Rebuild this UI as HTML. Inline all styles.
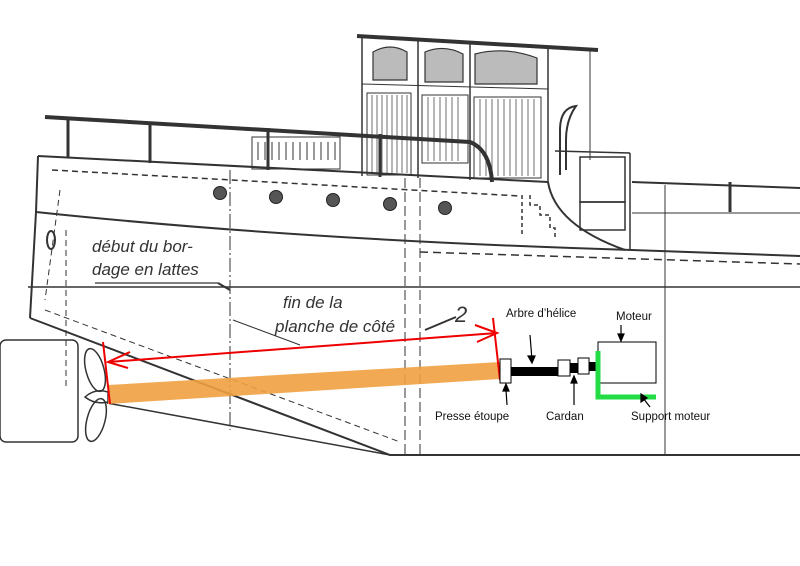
<!DOCTYPE html>
<html><head><meta charset="utf-8"><style>
html,body{margin:0;padding:0;background:#fff;}
svg{display:block}
.h{font-family:"Liberation Sans",sans-serif;font-style:italic;font-size:17px;fill:#333}
.l{font-family:"Liberation Sans",sans-serif;font-size:11.5px;fill:#111}
</style></head><body>
<svg width="800" height="566" viewBox="0 0 800 566" xmlns="http://www.w3.org/2000/svg">
<g stroke="#333" fill="none" stroke-width="1.5">
<!-- cabin -->
<line x1="357" y1="36" x2="598" y2="50" stroke-width="4"/>
<line x1="362" y1="38" x2="362" y2="176"/>
<line x1="418" y1="41" x2="418" y2="178"/>
<line x1="470" y1="44" x2="470" y2="180"/>
<line x1="548" y1="49" x2="548" y2="182"/>
<line x1="590" y1="51" x2="590" y2="160" stroke-width="1"/>
<path d="M373 52 Q390 42 407 52 V80 H373 Z" fill="#bbb" stroke-width="1.2"/>
<path d="M425 52 Q444 44 463 54 V82 H425 Z" fill="#bbb" stroke-width="1.2"/>
<path d="M475 54 Q505 46 537 58 V84 H475 Z" fill="#bbb" stroke-width="1.2"/>
<line x1="362" y1="84" x2="548" y2="89" stroke-width="1"/>
<rect x="367" y="93" width="44" height="82" stroke-width="1"/>
<rect x="422" y="95" width="46" height="68" stroke-width="1"/>
<rect x="474" y="97" width="67" height="81" stroke-width="1"/>
<g stroke-width="0.7">
<path d="M372 95V173M377 95V173M382 95V173M387 95V173M392 95V173M397 95V173M402 95V173M407 95V173"/>
<path d="M428 97V161M434 97V161M440 97V161M446 97V161M452 97V161M458 97V161"/>
<path d="M480 99V176M486 99V176M492 99V176M498 99V176M504 99V176M510 99V176M516 99V176M522 99V176M528 99V176M534 99V176"/>
</g>
<!-- exhaust + box -->
<path d="M560 175 V130 Q560 108 576 106 Q566 120 566 140 V170" stroke-width="2"/>
<rect x="580" y="157" width="45" height="45"/>
<rect x="580" y="202" width="45" height="28"/>
<line x1="555" y1="151" x2="630" y2="153"/>
<line x1="630" y1="153" x2="630" y2="250"/>
<path d="M522 195 V235 M530 195 V205 H540 V215 H550 V228 H555 V240" stroke-dasharray="4 3"/>
<path d="M548 182 Q555 225 625 250" stroke-width="2"/>
<!-- rail -->
<path d="M45 117 L470 142 Q490 150 492 182" stroke-width="4"/>
<path d="M68 117V157M150 122V163M268 128V170M380 134V177" stroke-width="3"/>
<rect x="252" y="137" width="88" height="32" stroke-width="1"/>
<path d="M258 142V160M265 142V160M272 142V160M279 142V160M286 142V160M293 142V160M300 142V160M307 142V160M314 142V160M321 142V160M328 142V160M335 142V160" stroke-width="1"/>
<!-- hull lines -->
<line x1="38" y1="156" x2="548" y2="182" stroke-width="2"/>
<line x1="632" y1="182" x2="800" y2="188" stroke-width="2"/>
<line x1="632" y1="213" x2="800" y2="213" stroke-width="1"/>
<line x1="730" y1="182" x2="730" y2="212" stroke-width="3"/>
<line x1="52" y1="170" x2="520" y2="196" stroke-dasharray="6 4"/>
<path d="M36 212 Q300 240 632 250 L800 256" stroke-width="2"/>
<line x1="420" y1="252" x2="800" y2="264" stroke-dasharray="8 5"/>
<line x1="38" y1="156" x2="36" y2="212" stroke-width="2"/>
<path d="M36 212 L30 318" stroke-width="2"/>
<line x1="28" y1="287" x2="800" y2="287" stroke-width="1.5"/>
<path d="M30 318 L390 455 L800 455" stroke-width="2"/>
<line x1="107" y1="403" x2="390" y2="455" stroke-width="1.5"/>
<line x1="45" y1="310" x2="400" y2="442" stroke-dasharray="6 4" stroke-width="1"/>
<!-- verticals -->
<line x1="230" y1="170" x2="230" y2="430" stroke-dasharray="14 3 2 3" stroke-width="1"/>
<line x1="405" y1="178" x2="405" y2="455" stroke-dasharray="10 4" stroke-width="1"/>
<line x1="420" y1="178" x2="420" y2="455" stroke-dasharray="10 4" stroke-width="1"/>
<line x1="665" y1="185" x2="665" y2="455" stroke-width="1"/>
<line x1="60" y1="190" x2="45" y2="300" stroke-dasharray="6 4" stroke-width="1"/>
<line x1="66" y1="230" x2="66" y2="390" stroke-dasharray="6 4" stroke-width="1"/>
<ellipse cx="51" cy="240" rx="4" ry="9" stroke-width="2"/>
<!-- rudder -->
<rect x="0" y="340" width="78" height="102" rx="6"/>
<ellipse cx="95" cy="370" rx="9" ry="22" transform="rotate(-15 95 370)"/>
<ellipse cx="96" cy="420" rx="9" ry="22" transform="rotate(15 96 420)"/>
<path d="M85 397 Q95 388 108 392 L108 402 Q95 405 85 397Z"/>
<!-- leaders -->
<line x1="95" y1="283" x2="218" y2="283" stroke-width="1.2"/>
<line x1="218" y1="283" x2="230" y2="290" stroke-width="2"/>
<line x1="233" y1="320" x2="300" y2="345" stroke-width="1"/>
<line x1="425" y1="330" x2="456" y2="317" stroke-width="2"/>
</g>
<g fill="#555" stroke="#222"><circle cx="220" cy="193" r="6.5"/><circle cx="276" cy="197" r="6.5"/><circle cx="333" cy="200" r="6.5"/><circle cx="390" cy="204" r="6.5"/><circle cx="445" cy="208" r="6.5"/></g>
<polygon points="108,385 500,362 500,379 108,404" fill="#f0a040" fill-opacity="0.9"/>
<g stroke="#e00" stroke-width="2" fill="none">
<line x1="108" y1="362" x2="497" y2="333"/>
<line x1="103" y1="342" x2="110" y2="404"/>
<line x1="493" y1="318" x2="500" y2="380"/>
<path d="M130 352 L108 362 L128 368"/>
<path d="M475 325 L497 333 L477 342"/>
</g>
<!-- drivetrain -->
<rect x="500" y="359" width="11" height="24" fill="#fff" stroke="#000"/>
<rect x="511" y="367" width="47" height="9" fill="#000"/>
<rect x="558" y="360" width="12" height="16" fill="#fff" stroke="#000"/>
<rect x="570" y="363" width="8" height="10" fill="#000"/>
<rect x="578" y="358" width="11" height="16" fill="#fff" stroke="#000"/>
<rect x="589" y="362" width="8" height="9" fill="#000"/>
<rect x="598" y="342" width="58" height="41" fill="#fff" stroke="#000"/>
<path d="M598 351 V397 H656" stroke="#22dd44" stroke-width="5" fill="none"/>
<g stroke="#000" stroke-width="1.2" fill="#000">
<line x1="530" y1="335" x2="532" y2="360"/><path d="M528 356 L532 363 L535 356Z"/>
<line x1="621" y1="325" x2="621" y2="337"/><path d="M618 334 L621 341 L624 334Z"/>
<line x1="507" y1="405" x2="506" y2="390"/><path d="M503 391 L506 384 L509 391Z"/>
<line x1="574" y1="405" x2="574" y2="382"/><path d="M571 383 L574 376 L577 383Z"/>
<line x1="650" y1="407" x2="643" y2="398"/><path d="M641 402 L641 394 L647 398Z"/>
</g>
<text class="h" x="92" y="252">début du bor-</text>
<text class="h" x="92" y="275">dage en lattes</text>
<text class="h" x="283" y="308">fin de la</text>
<text class="h" x="275" y="332">planche de côté</text>
<text class="h" x="455" y="322" style="font-size:22px">2</text>
<text class="l" x="506" y="317">Arbre d’hélice</text>
<text class="l" x="616" y="320">Moteur</text>
<text class="l" x="435" y="420">Presse étoupe</text>
<text class="l" x="546" y="420">Cardan</text>
<text class="l" x="631" y="420">Support moteur</text>
</svg>
</body></html>
